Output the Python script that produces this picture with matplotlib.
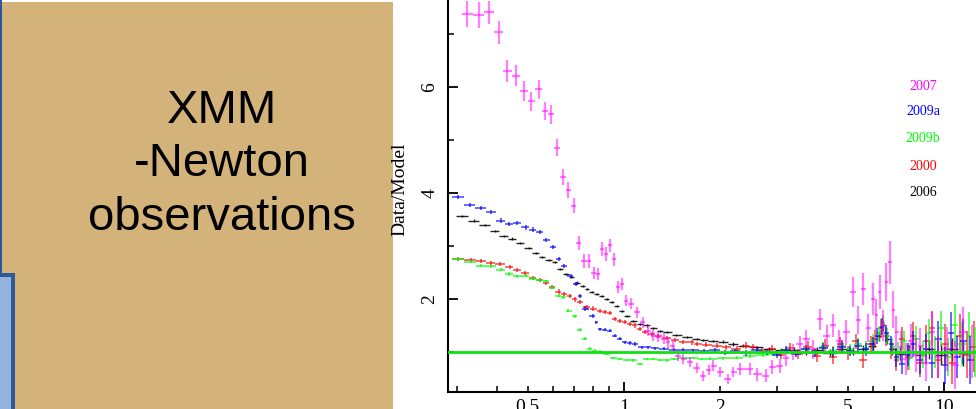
import numpy as np
import matplotlib
matplotlib.use("Agg")
import matplotlib.pyplot as plt
from matplotlib.patches import Rectangle
from matplotlib.ticker import FixedLocator, FuncFormatter, NullFormatter

# ---------------- data ----------------
e_2007 = [0.324, 0.352, 0.379, 0.406, 0.432, 0.460, 0.487, 0.513, 0.541, 0.567, 0.593, 0.619, 0.645, 0.671,
          0.697, 0.723, 0.751, 0.776, 0.804, 0.832, 0.856, 0.879, 0.904, 0.933, 0.958, 0.984, 1.014, 1.049,
          1.096, 1.144, 1.19, 1.235, 1.28, 1.33, 1.376, 1.42, 1.477, 1.53, 1.61, 1.69, 1.77, 1.84, 1.90, 2.0,
          2.12, 2.2, 2.3, 2.47, 2.6, 2.79, 2.9, 3.07, 3.2, 3.37, 3.55, 3.72, 3.9, 4.1, 4.3, 4.5, 4.7, 4.96,
          5.2, 5.4, 5.6, 5.8, 6.0, 6.15, 6.3, 6.45, 6.6, 6.8, 6.95, 7.1, 7.35, 7.6, 7.9, 8.2, 8.4, 8.8, 9.2,
          9.6, 10.2, 10.8, 11.5, 12.2]
r_2007 = [7.38, 7.36, 7.41, 7.03, 6.30, 6.21, 5.92, 5.73, 5.96, 5.54, 5.48, 4.85, 4.30, 4.06,
          3.76, 3.06, 2.72, 2.72, 2.49, 2.47, 2.94, 2.85, 3.01, 2.75, 2.22, 2.28, 1.97, 1.91,
          1.75, 1.56, 1.40, 1.31, 1.28, 1.25, 1.18, 1.12, 0.93, 0.87, 0.81, 0.70, 0.55, 0.66, 0.74, 0.62,
          0.49, 0.62, 0.68, 0.68, 0.58, 0.55, 0.72, 0.74, 0.88, 1.00, 1.15, 1.25, 1.05, 1.62, 1.30, 1.50, 1.20, 1.37,
          2.13, 1.60, 2.19, 1.45, 2.00, 1.70, 2.13, 1.50, 2.32, 2.69, 1.80, 1.37, 1.10, 0.87, 1.20, 0.95, 1.12, 0.80, 1.37,
          0.90, 1.06, 0.75, 1.37, 1.00]
u_2007 = [0.24, 0.24, 0.22, 0.22, 0.20, 0.20, 0.19, 0.18, 0.18, 0.17, 0.17, 0.16, 0.15, 0.15,
          0.14, 0.13, 0.13, 0.13, 0.12, 0.12, 0.13, 0.13, 0.13, 0.12, 0.11, 0.11, 0.11, 0.10,
          0.10, 0.10, 0.10, 0.10, 0.10, 0.10, 0.10, 0.10, 0.10, 0.10, 0.10, 0.10, 0.10, 0.10, 0.10, 0.10,
          0.10, 0.10, 0.11, 0.11, 0.12, 0.12, 0.13, 0.13, 0.14, 0.15, 0.16, 0.17, 0.18, 0.20, 0.20, 0.22, 0.22, 0.24,
          0.28, 0.26, 0.30, 0.26, 0.30, 0.30, 0.32, 0.30, 0.35, 0.40, 0.35, 0.30, 0.30, 0.30, 0.32, 0.33, 0.34, 0.35, 0.38,
          0.40, 0.42, 0.45, 0.48, 0.50]

e_2009a = [0.303, 0.330, 0.357, 0.383, 0.412, 0.437, 0.464, 0.493, 0.519, 0.545, 0.572, 0.600, 0.625, 0.650,
           0.681, 0.710, 0.729, 0.755, 0.802, 0.818, 0.841, 0.873, 0.904, 0.937, 0.972, 1.007, 1.044, 1.082,
           1.136, 1.19, 1.25, 1.33, 1.43, 1.53, 1.65, 1.78, 1.92, 2.07, 2.23, 2.4, 2.6, 2.8, 3.0, 3.2, 3.45,
           3.7, 3.95, 4.2, 4.5, 4.8, 5.1, 5.4, 5.7, 6.0, 6.2, 6.4, 6.6, 6.85, 7.1, 7.4, 7.7, 8.0, 8.4, 8.8,
           9.2, 9.6, 10.1, 10.5, 11.0, 11.5, 12.1]
r_2009a = [3.92, 3.77, 3.71, 3.64, 3.48, 3.42, 3.43, 3.35, 3.31, 3.26, 3.11, 2.98, 2.75, 2.62,
           2.43, 2.28, 2.06, 1.82, 1.68, 1.56, 1.43, 1.42, 1.40, 1.31, 1.25, 1.18, 1.17, 1.15,
           1.09, 1.09, 1.07, 1.06, 1.04, 1.04, 1.03, 1.02, 1.03, 0.99, 1.01, 0.98, 1.03, 1.00, 0.95, 1.04, 0.97,
           1.06, 0.98, 1.08, 1.00, 1.10, 1.02, 1.12, 1.05, 1.15, 1.30, 1.48, 1.35, 1.15, 0.90, 0.78, 0.95, 1.15, 0.85, 1.05,
           0.80, 1.25, 0.75, 1.35, 0.90, 1.20, 0.85]
u_2009a = [0.04] * 18 + [0.03] * 18 + [0.04, 0.04, 0.04, 0.05, 0.05, 0.06, 0.06, 0.07, 0.07,
           0.08, 0.08, 0.09, 0.10, 0.10, 0.10, 0.12, 0.12, 0.14, 0.15, 0.16, 0.16, 0.16, 0.18, 0.20, 0.22, 0.24, 0.26, 0.28,
           0.30, 0.33, 0.35, 0.40, 0.40, 0.42, 0.45]

e_2009b = [0.303, 0.332, 0.357, 0.383, 0.412, 0.437, 0.464, 0.493, 0.519, 0.545, 0.572, 0.597, 0.625, 0.646,
           0.670, 0.703, 0.729, 0.755, 0.783, 0.812, 0.841, 0.883, 0.926, 0.972, 1.019, 1.07, 1.122, 1.177,
           1.235, 1.296, 1.36, 1.43, 1.53, 1.65, 1.75, 1.86, 2.04, 2.25, 2.47, 2.72, 2.95, 3.2, 3.45, 3.7,
           3.95, 4.2, 4.5, 4.8, 5.1, 5.4, 5.7, 6.0, 6.25, 6.45, 6.65, 6.9, 7.2, 7.5, 7.8, 8.2, 8.6, 9.0,
           9.4, 9.8, 10.3, 10.8, 11.4, 12.0, 12.5]
r_2009b = [2.75, 2.70, 2.63, 2.62, 2.55, 2.47, 2.43, 2.44, 2.38, 2.35, 2.33, 2.21, 2.06, 2.03,
           1.78, 1.67, 1.42, 1.25, 1.06, 1.02, 1.00, 0.96, 0.89, 0.87, 0.85, 0.84, 0.77, 0.87,
           0.86, 0.85, 0.84, 0.87, 0.88, 0.88, 0.86, 0.87, 0.88, 0.89, 0.92, 0.94, 0.97, 1.04, 0.98, 1.06,
           1.00, 1.10, 1.02, 1.12, 1.05, 1.15, 1.08, 1.20, 1.35, 1.55, 1.30, 1.10, 1.00, 1.20, 0.88, 1.25, 0.95, 1.35,
           1.00, 1.45, 0.90, 1.50, 1.15, 1.30, 1.00]
u_2009b = [0.03] * 21 + [0.02] * 14 + [0.03, 0.03, 0.03, 0.04, 0.04, 0.05, 0.06, 0.06, 0.07,
           0.08, 0.08, 0.09, 0.10, 0.10, 0.11, 0.12, 0.13, 0.14, 0.15, 0.15, 0.16, 0.18, 0.20, 0.22, 0.24, 0.26, 0.28,
           0.30, 0.33, 0.36, 0.40, 0.42, 0.45, 0.48]

e_2000 = [0.303, 0.332, 0.357, 0.383, 0.409, 0.439, 0.464, 0.491, 0.519, 0.545, 0.572, 0.597, 0.625, 0.650,
          0.677, 0.703, 0.729, 0.765, 0.802, 0.841, 0.873, 0.904, 0.937, 0.972, 1.007, 1.044, 1.082, 1.122,
          1.163, 1.22, 1.28, 1.36, 1.44, 1.53, 1.63, 1.69, 1.81, 1.95, 2.09, 2.25, 2.4, 2.53, 2.7, 2.9,
          3.1, 3.3, 3.5, 3.75, 4.0, 4.25, 4.5, 4.75, 5.0, 5.3, 5.6, 5.9, 6.1, 6.35, 6.6, 6.85, 7.1, 7.4,
          7.7, 8.0, 8.4, 8.8, 9.2, 9.6, 10.1, 10.6, 11.2, 11.8, 12.4]
r_2000 = [2.75, 2.74, 2.71, 2.68, 2.66, 2.61, 2.54, 2.49, 2.40, 2.36, 2.31, 2.22, 2.14, 2.09,
          2.06, 1.99, 1.94, 1.84, 1.82, 1.77, 1.75, 1.73, 1.62, 1.59, 1.57, 1.53, 1.50, 1.43,
          1.37, 1.34, 1.30, 1.26, 1.23, 1.19, 1.18, 1.15, 1.14, 1.12, 1.09, 1.06, 1.12, 1.09, 1.02, 1.06,
          0.95, 1.08, 0.96, 1.10, 0.92, 1.12, 0.90, 1.15, 0.98, 1.20, 0.85, 1.15, 1.25, 1.45, 1.30, 1.05, 0.85, 1.25,
          0.90, 1.30, 0.80, 1.20, 1.45, 0.85, 1.15, 0.80, 1.30, 0.95, 1.10]
u_2000 = [0.04] * 37 + [0.05, 0.05, 0.05, 0.06, 0.06, 0.06, 0.07,
          0.08, 0.08, 0.09, 0.10, 0.10, 0.12, 0.12, 0.13, 0.13, 0.14, 0.15, 0.16, 0.17, 0.18, 0.18, 0.18, 0.20, 0.22,
          0.24, 0.26, 0.28, 0.30, 0.33, 0.35, 0.38, 0.40, 0.42, 0.45, 0.48]

e_2006 = [0.312, 0.340, 0.367, 0.395, 0.422, 0.447, 0.472, 0.504, 0.530, 0.555, 0.582, 0.607, 0.630, 0.660,
          0.685, 0.711, 0.743, 0.765, 0.793, 0.822, 0.852, 0.883, 0.915, 0.949, 0.985, 1.019, 1.07, 1.122,
          1.177, 1.235, 1.296, 1.36, 1.46, 1.57, 1.69, 1.77, 1.9, 2.04, 2.2, 2.36, 2.6, 2.85, 3.1, 3.4,
          3.7, 4.0, 4.4, 4.8, 5.2, 5.6, 6.0, 6.25, 6.45, 6.65, 6.9, 7.3, 7.8, 8.4, 9.0, 9.8, 10.6, 11.5]
r_2006 = [3.56, 3.48, 3.40, 3.29, 3.19, 3.14, 3.06, 2.96, 2.87, 2.80, 2.74, 2.69, 2.57, 2.47,
          2.41, 2.31, 2.24, 2.19, 2.13, 2.09, 2.06, 2.00, 1.94, 1.87, 1.78, 1.68, 1.59, 1.53,
          1.50, 1.45, 1.40, 1.37, 1.32, 1.28, 1.25, 1.23, 1.21, 1.19, 1.15, 1.12, 1.09, 1.06, 1.03, 1.04,
          1.00, 1.03, 0.99, 1.05, 1.02, 1.06, 1.12, 1.30, 1.50, 1.25, 1.05, 0.97, 1.00, 0.95, 1.05, 0.95, 1.05, 0.98]
u_2006 = [0.02] * 37 + [0.03, 0.03, 0.03, 0.03, 0.04, 0.04, 0.05,
          0.05, 0.06, 0.06, 0.07, 0.07, 0.08, 0.08, 0.09, 0.10, 0.10, 0.10, 0.12, 0.14, 0.16, 0.18, 0.20, 0.22, 0.25]

series = [
    ("2006", e_2006, r_2006, u_2006, "#000000", 1.0, 0.85),
    ("2000", e_2000, r_2000, u_2000, "#ff0000", 1.1, 0.75),
    ("2009b", e_2009b, r_2009b, u_2009b, "#00ff00", 1.1, 0.8),
    ("2009a", e_2009a, r_2009a, u_2009a, "#0000ff", 1.1, 0.75),
    ("2007", e_2007, r_2007, u_2007, "#ff00ff", 1.6, 0.5),
]
legend_order = ["2007", "2009a", "2009b", "2000", "2006"]
legend_colors = {"2007": "#ff00ff", "2009a": "#0000ff", "2009b": "#00ff00", "2000": "#ff0000", "2006": "#000000"}

W, H = 976, 409
fig = plt.figure(figsize=(W / 100, H / 100), dpi=100)
fig.patch.set_facecolor("white")

def fx(px):
    return px / W

def fy(py):
    return 1 - py / H

# ---------------- slide decorations ----------------
fig.patches.append(Rectangle((0, 0), fx(393), fy(2), transform=fig.transFigure,
                             facecolor="#d4b37b", edgecolor="none", zorder=1))
fig.patches.append(Rectangle((0, fy(273)), fx(2), 1 - fy(273), transform=fig.transFigure,
                             facecolor="#2b5797", edgecolor="none", zorder=2))
fig.patches.append(Rectangle((0, 0), fx(15), fy(273), transform=fig.transFigure,
                             facecolor="#2f5a98", edgecolor="none", zorder=2))
fig.patches.append(Rectangle((0, 0), fx(11), fy(277), transform=fig.transFigure,
                             facecolor="#93b2df", edgecolor="none", zorder=3))

title_lines = [("XMM", 123), ("-Newton", 176), ("observations", 230)]
for txt, base in title_lines:
    fig.text(fx(222), fy(base), txt, ha="center", va="baseline", fontsize=34,
             family="Liberation Sans", color="black", zorder=5)

# ---------------- chart ----------------
ax = fig.add_axes([fx(448), 1 - 392 / H, 1 - fx(448), 392 / H])
ax.set_xscale("log")
ax.set_xlim(0.282, 12.6)
ax.set_ylim(0.245, 7.64)

for name, e, r, u, col, lw, al in series:
    e = np.asarray(e)
    r = np.asarray(r)
    le = np.log10(e)
    mids = (le[1:] + le[:-1]) / 2
    lo = np.concatenate([[le[0] - (mids[0] - le[0])], mids])
    hi = np.concatenate([mids, [le[-1] + (le[-1] - mids[-1])]])
    xerr = np.vstack([e - 10 ** lo, 10 ** hi - e])
    ax.errorbar(e, r, xerr=xerr, yerr=u, fmt="none", ecolor=col, elinewidth=lw,
                capsize=0, alpha=al, zorder=2)

ax.axhline(1.0, color="#11e011", lw=2, zorder=4)

for s in ["top", "right"]:
    ax.spines[s].set_visible(False)
for s in ["left", "bottom"]:
    ax.spines[s].set_linewidth(1.5)

ax.xaxis.set_major_locator(FixedLocator([1, 10]))
ax.xaxis.set_minor_locator(FixedLocator([0.3, 0.4, 0.5, 0.6, 0.7, 0.8, 0.9, 2, 3, 4, 5, 6, 7, 8, 9]))
ax.xaxis.set_major_formatter(FuncFormatter(lambda v, p: "%g" % v))
ax.xaxis.set_minor_formatter(FuncFormatter(lambda v, p: ("%g" % v) if v in (0.5, 2, 5) else ""))
ax.yaxis.set_major_locator(FixedLocator([2, 4, 6]))
ax.yaxis.set_minor_locator(FixedLocator([1, 3, 5, 7]))
ax.yaxis.set_major_formatter(FuncFormatter(lambda v, p: "%g" % v))
ax.yaxis.set_minor_formatter(NullFormatter())

ax.tick_params(which="major", direction="in", length=7, width=1.3, labelsize=14, pad=5)
ax.tick_params(which="minor", direction="in", length=4, width=1.1, labelsize=14, pad=5)
ax.tick_params(axis="y", which="major", pad=7)
for lbl in ax.get_xticklabels(minor=False) + ax.get_xticklabels(minor=True) + ax.get_yticklabels():
    lbl.set_family("Liberation Serif")
for lbl in ax.get_yticklabels():
    lbl.set_rotation(90)
    lbl.set_va("center")

fig.text(fx(400), fy(189), "Data/Model", rotation=90, ha="center", va="center",
         fontsize=14, family="Liberation Serif", zorder=6)

legend_y = [86, 112, 139, 166, 193]
for name, py in zip(legend_order, legend_y):
    fig.text(fx(923), fy(py), name, ha="center", va="center", fontsize=10,
             family="Liberation Serif", color=legend_colors[name], zorder=6)

fig.savefig("out.png", dpi=100)
